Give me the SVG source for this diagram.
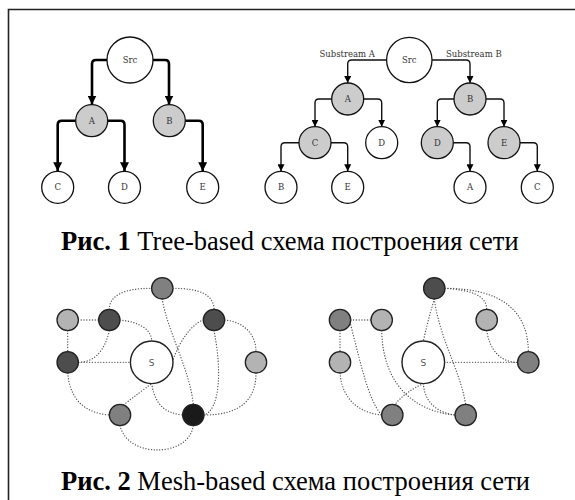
<svg xmlns="http://www.w3.org/2000/svg" width="575" height="500" viewBox="0 0 575 500">
  <style>
    .frame { fill: none; stroke: #222; stroke-width: 1.6; }
    .tnode { stroke: #111; stroke-width: 1.3; }
    .white { fill: #ffffff; }
    .grey { fill: #cccccc; }
    .tlabel { font-family: "DejaVu Serif", "Liberation Serif", serif; font-size: 8.5px; fill: #333; text-anchor: middle; }
    .sublabel { font-family: "DejaVu Serif", "Liberation Serif", serif; font-size: 8.5px; fill: #333; }
    .thick { fill: none; stroke: #000; stroke-width: 2.6; }
    .thin { fill: none; stroke: #111; stroke-width: 1.4; }
    .dot { fill: none; stroke: #555; stroke-width: 1.3; stroke-dasharray: 0.1 2.7; stroke-linecap: round; }
    .mnode { stroke: #222; stroke-width: 1.3; }
    .c-light { fill: #b3b3b3; }
    .c-mid { fill: #808080; }
    .c-dark { fill: #4d4d4d; }
    .c-black { fill: #1a1a1a; }
    .src { fill: #fff; stroke: #222; stroke-width: 1.4; }
    .slabel { font-family: "DejaVu Sans", "Liberation Sans", sans-serif; font-size: 9px; fill: #555; text-anchor: middle; }
    .caption { font-family: "Liberation Serif", "Times New Roman", serif; font-size: 26.5px; fill: #000; }
    .caption .b { font-weight: bold; }
  </style>
  <defs>
    <marker id="arrow-big" viewBox="0 0 10 10" refX="10" refY="5" markerWidth="9" markerHeight="9" orient="auto" markerUnits="userSpaceOnUse">
      <path d="M0,0 L10,5 L0,10 z" fill="#000"/>
    </marker>
    <marker id="arrow-small" viewBox="0 0 10 10" refX="10" refY="5" markerWidth="7" markerHeight="7" orient="auto" markerUnits="userSpaceOnUse">
      <path d="M0,0 L10,5 L0,10 z" fill="#000"/>
    </marker>
  </defs>

  <!-- page frame -->
  <path class="frame" d="M8.5,500 V9.5 H575"/>

  <!-- ===== Tree-based: single tree ===== -->
  <g id="tree1-edges">
    <path class="thick" marker-end="url(#arrow-big)" d="M107,60 H96 Q92,60 92,64 V104.5"/>
    <path class="thick" marker-end="url(#arrow-big)" d="M153,60 H165 Q169,60 169,64 V104.5"/>
    <path class="thick" marker-end="url(#arrow-big)" d="M75.7,120.7 H61.7 Q57.7,120.7 57.7,124.7 V171.2"/>
    <path class="thick" marker-end="url(#arrow-big)" d="M107.7,120.7 H120.5 Q124.5,120.7 124.5,124.7 V171.2"/>
    <path class="thick" marker-end="url(#arrow-big)" d="M185.3,120.7 H198.7 Q202.7,120.7 202.7,124.7 V171.2"/>
  </g>
  <g id="t1-src"><circle class="tnode white" cx="130" cy="60" r="23"/><text class="tlabel" x="130" y="63">Src</text></g>
  <g id="t1-a"><circle class="tnode grey" cx="91.7" cy="120.7" r="16"/><text class="tlabel" x="91.7" y="123.7">A</text></g>
  <g id="t1-b"><circle class="tnode grey" cx="169.3" cy="120.7" r="16"/><text class="tlabel" x="169.3" y="123.7">B</text></g>
  <g id="t1-c"><circle class="tnode white" cx="57.7" cy="187.3" r="16"/><text class="tlabel" x="57.7" y="190.3">C</text></g>
  <g id="t1-d"><circle class="tnode white" cx="124.5" cy="187.3" r="16"/><text class="tlabel" x="124.5" y="190.3">D</text></g>
  <g id="t1-e"><circle class="tnode white" cx="202.7" cy="187.3" r="16"/><text class="tlabel" x="202.7" y="190.3">E</text></g>

  <!-- ===== Tree-based: two substreams ===== -->
  <g id="tree2-edges">
    <path class="thin" marker-end="url(#arrow-small)" d="M386.6,60 H351.7 Q347.7,60 347.7,64 V83"/>
    <path class="thin" marker-end="url(#arrow-small)" d="M432,60 H466 Q470,60 470,64 V83"/>
    <path class="thin" marker-end="url(#arrow-small)" d="M331.7,99 H319 Q315,99 315,103 V126.7"/>
    <path class="thin" marker-end="url(#arrow-small)" d="M363.7,99 H377.7 Q381.7,99 381.7,103 V126.7"/>
    <path class="thin" marker-end="url(#arrow-small)" d="M454,99 H441.3 Q437.3,99 437.3,103 V126.7"/>
    <path class="thin" marker-end="url(#arrow-small)" d="M486,99 H500 Q504,99 504,103 V126.7"/>
    <path class="thin" marker-end="url(#arrow-small)" d="M299,142.7 H285 Q281,142.7 281,146.7 V171.3"/>
    <path class="thin" marker-end="url(#arrow-small)" d="M331,142.7 H343.7 Q347.7,142.7 347.7,146.7 V171.3"/>
    <path class="thin" marker-end="url(#arrow-small)" d="M453.3,142.7 H466 Q470,142.7 470,146.7 V171.3"/>
    <path class="thin" marker-end="url(#arrow-small)" d="M520,142.7 H533.3 Q537.3,142.7 537.3,146.7 V171.3"/>
    <text class="sublabel" x="375" y="56.5" text-anchor="end">Substream A</text>
    <text class="sublabel" x="446" y="56.5">Substream B</text>
  </g>
  <g id="t2-src"><circle class="tnode white" cx="409.3" cy="60" r="22.7"/><text class="tlabel" x="409.3" y="63">Src</text></g>
  <g id="t2-a"><circle class="tnode grey" cx="347.7" cy="99" r="16"/><text class="tlabel" x="347.7" y="102">A</text></g>
  <g id="t2-b"><circle class="tnode grey" cx="470" cy="99" r="16"/><text class="tlabel" x="470" y="102">B</text></g>
  <g id="t2-c"><circle class="tnode grey" cx="315" cy="142.7" r="16"/><text class="tlabel" x="315" y="145.7">C</text></g>
  <g id="t2-d1"><circle class="tnode white" cx="381.7" cy="142.7" r="16"/><text class="tlabel" x="381.7" y="145.7">D</text></g>
  <g id="t2-d2"><circle class="tnode grey" cx="437.3" cy="142.7" r="16"/><text class="tlabel" x="437.3" y="145.7">D</text></g>
  <g id="t2-e1"><circle class="tnode grey" cx="504" cy="142.7" r="16"/><text class="tlabel" x="504" y="145.7">E</text></g>
  <g id="t2-b2"><circle class="tnode white" cx="281" cy="187.3" r="16"/><text class="tlabel" x="281" y="190.3">B</text></g>
  <g id="t2-e2"><circle class="tnode white" cx="347.7" cy="187.3" r="16"/><text class="tlabel" x="347.7" y="190.3">E</text></g>
  <g id="t2-a2"><circle class="tnode white" cx="470" cy="187.3" r="16"/><text class="tlabel" x="470" y="190.3">A</text></g>
  <g id="t2-c2"><circle class="tnode white" cx="537.3" cy="187.3" r="16"/><text class="tlabel" x="537.3" y="190.3">C</text></g>

  <text class="caption" x="61" y="250"><tspan class="b">Рис. 1</tspan> Tree-based схема построения сети</text>

  <!-- ===== Mesh-based: left ===== -->
  <g id="mesh1-edges">
    <path class="dot" d="M78.4,320 H98.6"/>
    <path class="dot" d="M67.7,330.7 V351.6"/>
    <path class="dot" d="M109.3,309.3 C109.3,295 125,288.3 151.6,288.3"/>
    <path class="dot" d="M173,288.3 C200,288.3 214,295 214,309.3"/>
    <path class="dot" d="M120,320 C140,322 151.7,330 151.7,341"/>
    <path class="dot" d="M109.3,330.7 C105,350 95,362.3 78.4,362.3"/>
    <path class="dot" d="M78.4,362.3 H130.4"/>
    <path class="dot" d="M162.3,299 C167,330 190,370 193.3,404.3"/>
    <path class="dot" d="M203.3,320 C192,324 180,340 173,360"/>
    <path class="dot" d="M214,330.7 C222,370 220,410 204,415"/>
    <path class="dot" d="M224.7,320 C245,322 256,335 256,351.6"/>
    <path class="dot" d="M256,373 C256,400 240,415 204,415"/>
    <path class="dot" d="M67.7,373 C70,400 85,413 109.3,415"/>
    <path class="dot" d="M123.5,405 Q140,392 151.7,383.6"/>
    <path class="dot" d="M151.7,383.6 C155,405 165,413 182.6,415"/>
    <path class="dot" d="M120,425.7 C125,445 145,450 157,450 C170,450 190,445 193.3,425.7"/>
  </g>
  <g id="m1-n1"><circle class="mnode c-light" cx="67.7" cy="320" r="10.7"/></g>
  <g id="m1-n2"><circle class="mnode c-dark" cx="109.3" cy="320" r="10.7"/></g>
  <g id="m1-n3"><circle class="mnode c-mid" cx="162.3" cy="288.3" r="10.7"/></g>
  <g id="m1-n4"><circle class="mnode c-dark" cx="214" cy="320" r="10.7"/></g>
  <g id="m1-n5"><circle class="mnode c-dark" cx="67.7" cy="362.3" r="10.7"/></g>
  <g id="m1-n6"><circle class="mnode c-light" cx="256" cy="362.3" r="10.7"/></g>
  <g id="m1-n7"><circle class="mnode c-mid" cx="120" cy="415" r="10.7"/></g>
  <g id="m1-n8"><circle class="mnode c-black" cx="193.3" cy="415" r="10.7"/></g>
  <g id="m1-s"><circle class="src" cx="151.7" cy="362.3" r="21.3"/><text class="slabel" x="151.7" y="365.5">S</text></g>

  <!-- ===== Mesh-based: right ===== -->
  <g id="mesh2-edges">
    <path class="dot" d="M350.7,320 H371"/>
    <path class="dot" d="M340,330.7 V351.6"/>
    <path class="dot" d="M434.3,299 Q428,320 423.3,341"/>
    <path class="dot" d="M434.3,299 C440,340 460,370 465.7,404.3"/>
    <path class="dot" d="M445,288.3 C500,288.3 528.3,310 528.3,351.6"/>
    <path class="dot" d="M445,288.3 C470,290 486.7,295 486.7,309.3"/>
    <path class="dot" d="M486.7,330.7 C490,350 500,362.3 517.6,362.3"/>
    <path class="dot" d="M444.6,362.3 H517.6"/>
    <path class="dot" d="M350,322 C360,360 368,400 381.6,415"/>
    <path class="dot" d="M340,373 C342,400 360,413 381.6,415"/>
    <path class="dot" d="M381.7,330.7 C383,390 420,412 455,415"/>
    <path class="dot" d="M423.3,383.6 Q405,392 395,404.5"/>
    <path class="dot" d="M423.3,383.6 C425,405 440,413 455,415"/>
  </g>
  <g id="m2-n1"><circle class="mnode c-dark" cx="434.3" cy="288.3" r="10.7"/></g>
  <g id="m2-n2"><circle class="mnode c-mid" cx="340" cy="320" r="10.7"/></g>
  <g id="m2-n3"><circle class="mnode c-light" cx="381.7" cy="320" r="10.7"/></g>
  <g id="m2-n4"><circle class="mnode c-light" cx="486.7" cy="320" r="10.7"/></g>
  <g id="m2-n5"><circle class="mnode c-light" cx="340" cy="362.3" r="10.7"/></g>
  <g id="m2-n6"><circle class="mnode c-mid" cx="528.3" cy="362.3" r="10.7"/></g>
  <g id="m2-n7"><circle class="mnode c-mid" cx="392.3" cy="415" r="10.7"/></g>
  <g id="m2-n8"><circle class="mnode c-mid" cx="465.7" cy="415" r="10.7"/></g>
  <g id="m2-s"><circle class="src" cx="423.3" cy="362.3" r="21.3"/><text class="slabel" x="423.3" y="365.5">S</text></g>

  <text class="caption" x="61" y="490"><tspan class="b">Рис. 2</tspan> Mesh-based схема построения сети</text>
</svg>
